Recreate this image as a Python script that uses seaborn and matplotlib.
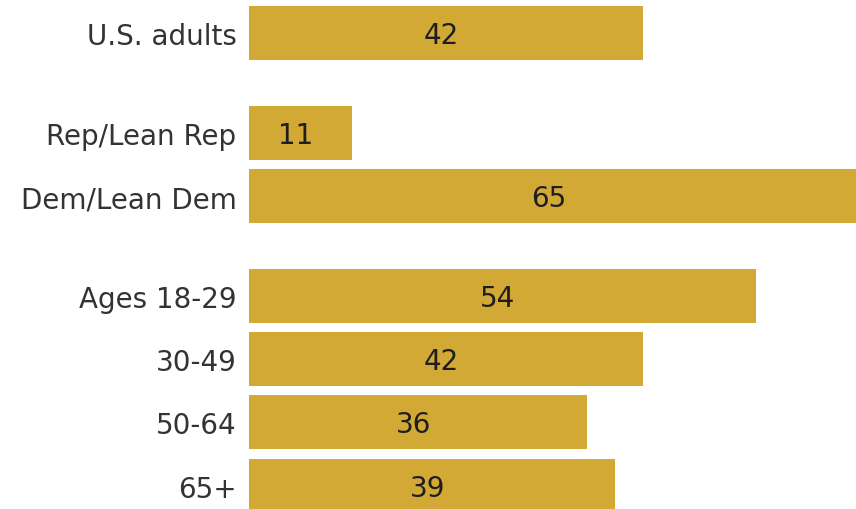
import numpy as np
import pandas as pd
import matplotlib
matplotlib.use("Agg")
import matplotlib.pyplot as plt
import seaborn as sns

# Share of each group (%)
groups = [
    ["U.S. adults"],
    ["Rep/Lean Rep", "Dem/Lean Dem"],
    ["Ages 18-29", "30-49", "50-64", "65+"],
]
values = [42, 11, 65, 54, 42, 36, 39]

categories = [c for g in groups for c in g]

# Row positions: one unit per bar, extra space between groups
group_gap = 0.58
positions = []
pos = 0.0
for gi, g in enumerate(groups):
    if gi > 0:
        pos += group_gap
    for _ in g:
        positions.append(pos)
        pos += 1.0
positions = np.array(positions)

df = pd.DataFrame({"label": categories, "value": values, "pos": positions})

sns.set_theme(style="white")
plt.rcParams["font.family"] = ["DejaVu Sans"]

bar_color = "#D3A935"

fig = plt.figure(figsize=(8.56, 5.10), dpi=100)
ax = fig.add_axes([249 / 856, 0.0, 1 - 249 / 856, 1.0])

sns.barplot(
    data=df, x="value", y="pos", orient="h", native_scale=True,
    color=bar_color, width=0.857, saturation=1, ax=ax, errorbar=None,
    linewidth=0,
)

ax.set_xlim(0, 64.7)
ax.set_ylim(7.53, -0.538)

for p, v in zip(positions, values):
    ax.text(v / 2 - 0.5, p + 0.03, str(v), ha="center", va="center",
            fontsize=20, color="#1e1e1e")

ax.set_yticks(positions)
ax.set_yticklabels(categories, fontsize=20, color="#333333")
ax.tick_params(axis="y", length=0, pad=9)
ax.set_xticks([])
ax.set_xlabel("")
ax.set_ylabel("")
for s in ax.spines.values():
    s.set_visible(False)

fig.savefig("out.png", dpi=100)
